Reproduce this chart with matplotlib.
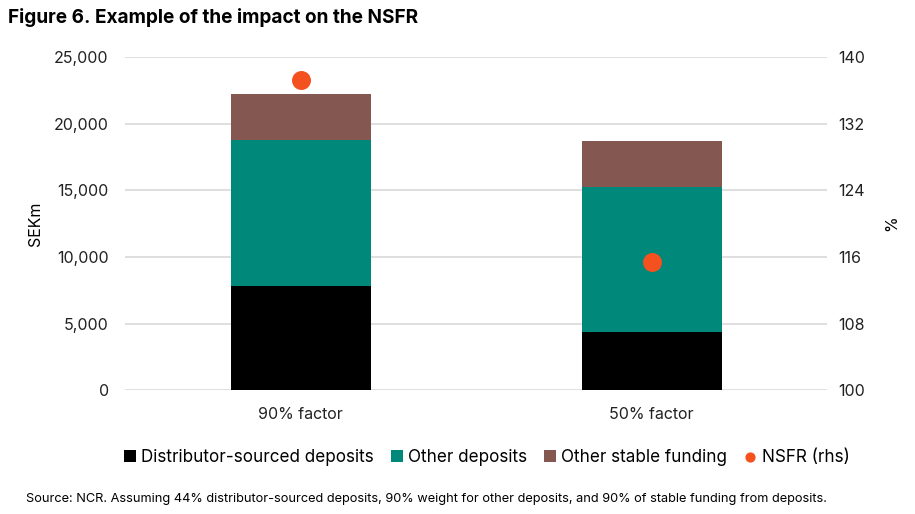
import matplotlib.pyplot as plt
import numpy as np

plt.rcParams['font.family'] = ['Inter', 'DejaVu Sans']

categories = ['90% factor', '50% factor']
distributor = [7830, 4330]
other_deposits = [10920, 10890]
other_stable = [3450, 3450]
nsfr = [137.2, 115.4]

fig = plt.figure(figsize=(9.15, 5.14), dpi=100)
ax = fig.add_axes([0.137, 0.241, 0.767, 0.648])
ax2 = ax.twinx()

x = np.arange(len(categories))
w = 0.40
b1 = ax.bar(x, distributor, w, color='#000000', label='Distributor-sourced deposits', zorder=3)
b2 = ax.bar(x, other_deposits, w, bottom=distributor, color='#00897b', label='Other deposits', zorder=3)
bottom2 = np.array(distributor) + np.array(other_deposits)
b3 = ax.bar(x, other_stable, w, bottom=bottom2, color='#845750', label='Other stable funding', zorder=3)
sc = ax2.scatter(x, nsfr, s=160, color='#f4511e', label='NSFR (rhs)', zorder=4)

ax.set_xlim(-0.5, 1.5)
ax.set_ylim(0, 25000)
ax.set_yticks(range(0, 25001, 5000))
ax.set_yticklabels([f'{v:,}' for v in range(0, 25001, 5000)])
ax2.set_ylim(100, 140)
ax2.set_yticks(range(100, 141, 8))
ax.set_xticks(x)
ax.set_xticklabels(categories)
ax.grid(axis='y', color='#d9d9d9', lw=1.2, zorder=0)
for a in (ax, ax2):
    for s in a.spines.values():
        s.set_visible(False)
    a.tick_params(length=0, labelsize=11.5, colors='#222222')
ax.tick_params(axis='y', pad=12)
ax.tick_params(axis='x', pad=12)
ax2.tick_params(axis='y', pad=8)
ax.set_ylabel('SEKm', fontsize=11.5, labelpad=8)
ax2.set_ylabel('%', fontsize=11.5, labelpad=14)

fig.legend(handles=[b1, b2, b3, sc], loc='center', bbox_to_anchor=(0.532, 0.11), ncol=4,
           frameon=False, fontsize=12.3, handlelength=0.7, handleheight=0.7,
           handletextpad=0.3, columnspacing=1.0, markerscale=0.5)

fig.text(0.009, 0.965, 'Figure 6. Example of the impact on the NSFR', fontsize=13.7,
         fontweight='bold', va='center', ha='left')
fig.text(0.028, 0.03, 'Source: NCR. Assuming 44% distributor-sourced deposits, 90% weight for other deposits, '
         'and 90% of stable funding from deposits.', fontsize=9.2, va='center', ha='left')

fig.savefig('out.png', dpi=100)
